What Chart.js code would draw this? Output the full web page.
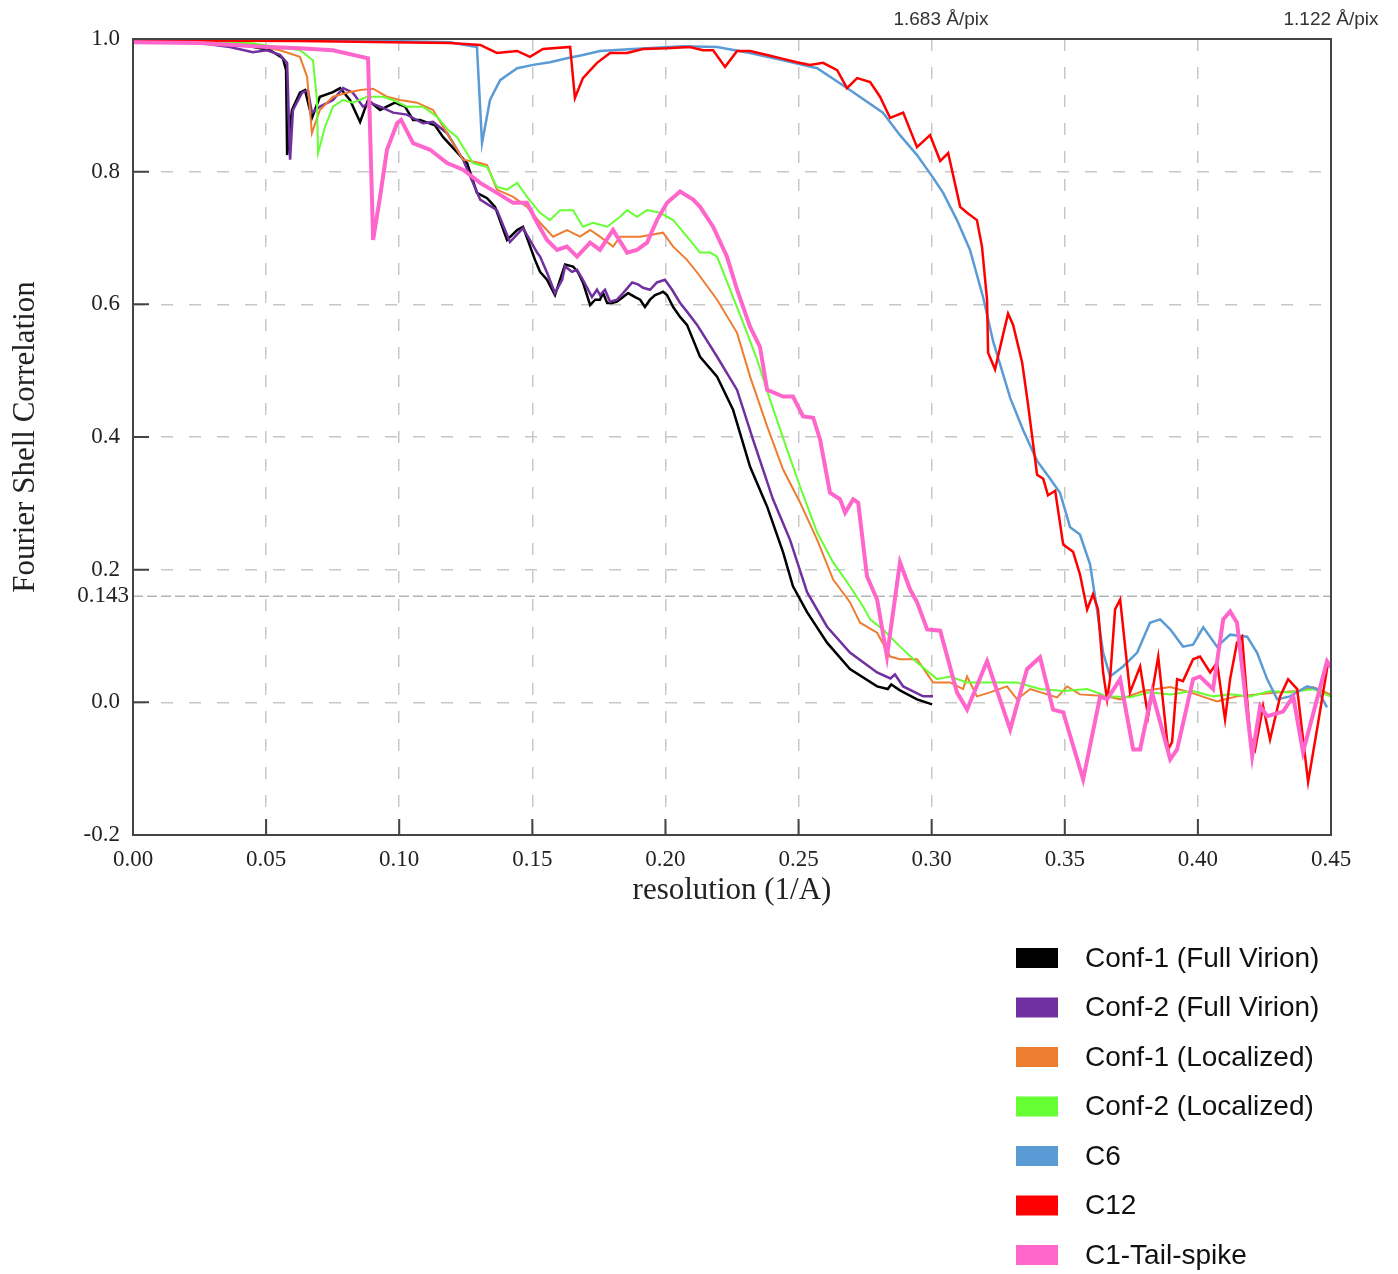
<!DOCTYPE html>
<html>
<head>
<meta charset="utf-8">
<title>Fourier Shell Correlation</title>
<script src="https://cdn.jsdelivr.net/npm/chart.js@4.4.1/dist/chart.umd.min.js"></script>
<style>
  html, body { margin: 0; padding: 0; background: #fff; }
  #fsc { display: block; }
</style>
</head>
<body>
<canvas id="fsc" width="1398" height="1274"></canvas>
<script>
// Tick values on both axes.
const xTicks = [0, 0.05, 0.1, 0.15, 0.2, 0.25, 0.3, 0.35, 0.4, 0.45];
const yTicks = [-0.2, 0, 0.2, 0.4, 0.6, 0.8, 1.0];

// Reference FSC threshold; the source figure draws its 0.143 line at this height.
const thresholdLabel = '0.143';
const thresholdDrawnAt = 0.16;

// Pixel-size annotations above the plot, keyed by resolution.
const topLabels = ['1.683 Å/pix', '1.122 Å/pix'];
const topLabelAt = [0.3035, 0.45];

const seriesNames = [
  'Conf-1 (Full Virion)', 'Conf-2 (Full Virion)', 'Conf-1 (Localized)',
  'Conf-2 (Localized)', 'C6', 'C12', 'C1-Tail-spike',
];
const seriesColors = ['#000000', '#7030a0', '#ed7d31', '#66ff33', '#5b9bd5', '#ff0000', '#ff66cc'];

// [resolution (1/A), FSC]
const conf1Full = [
  [0, 0.997], [0.025, 0.997], [0.036, 0.994], [0.044, 0.989], [0.0515, 0.983], [0.0563, 0.971],
  [0.0575, 0.953], [0.0579, 0.825], [0.0597, 0.893], [0.0627, 0.919], [0.0646, 0.923], [0.0672, 0.881],
  [0.0702, 0.913], [0.0751, 0.92], [0.0778, 0.926], [0.0815, 0.908], [0.0853, 0.875], [0.0883, 0.908],
  [0.0928, 0.893], [0.0984, 0.904], [0.1022, 0.898], [0.1052, 0.878], [0.1078, 0.878], [0.1134, 0.87],
  [0.1165, 0.852], [0.1255, 0.813], [0.1292, 0.768], [0.133, 0.76], [0.136, 0.747], [0.1405, 0.697],
  [0.1443, 0.712], [0.1465, 0.717], [0.151, 0.667], [0.1529, 0.649], [0.1555, 0.637], [0.1585, 0.614],
  [0.1604, 0.637], [0.1623, 0.66], [0.1653, 0.657], [0.1672, 0.648], [0.169, 0.633], [0.1717, 0.599],
  [0.1736, 0.607], [0.1754, 0.607], [0.1766, 0.617], [0.1781, 0.602], [0.1799, 0.602], [0.1818, 0.604],
  [0.1841, 0.611], [0.186, 0.617], [0.1886, 0.611], [0.1905, 0.607], [0.1923, 0.596], [0.1942, 0.607],
  [0.1961, 0.614], [0.198, 0.617], [0.1991, 0.619], [0.2006, 0.614], [0.2029, 0.596], [0.2055, 0.581],
  [0.2081, 0.569], [0.213, 0.521], [0.2194, 0.491], [0.2254, 0.441], [0.2318, 0.355], [0.2382, 0.295],
  [0.2442, 0.226], [0.2479, 0.175], [0.2532, 0.136], [0.2607, 0.09], [0.2693, 0.05], [0.2795, 0.024],
  [0.2835, 0.02], [0.2848, 0.027], [0.2881, 0.018], [0.2945, 0.0045], [0.3002, -0.003],
];

const conf2Full = [
  [0, 0.995], [0.025, 0.994], [0.0364, 0.988], [0.045, 0.98], [0.0503, 0.983], [0.0552, 0.976],
  [0.0579, 0.964], [0.059, 0.818], [0.0601, 0.893], [0.0635, 0.919], [0.0657, 0.923], [0.0672, 0.889],
  [0.0702, 0.898], [0.0751, 0.908], [0.0789, 0.926], [0.0826, 0.919], [0.0864, 0.898], [0.089, 0.904],
  [0.0928, 0.898], [0.0977, 0.889], [0.1029, 0.886], [0.1089, 0.873], [0.1127, 0.875], [0.118, 0.858],
  [0.124, 0.818], [0.1304, 0.758], [0.1367, 0.742], [0.1416, 0.694], [0.1465, 0.715], [0.1518, 0.678],
  [0.1529, 0.672], [0.1555, 0.648], [0.1585, 0.617], [0.1612, 0.637], [0.1623, 0.657], [0.1649, 0.649],
  [0.1668, 0.652], [0.169, 0.637], [0.1724, 0.611], [0.1743, 0.622], [0.1754, 0.614], [0.1773, 0.622],
  [0.1792, 0.604], [0.1818, 0.607], [0.1841, 0.617], [0.1875, 0.633], [0.1897, 0.63], [0.1916, 0.625],
  [0.1942, 0.622], [0.1968, 0.633], [0.1998, 0.637], [0.2025, 0.622], [0.2055, 0.602], [0.2081, 0.589],
  [0.2119, 0.569], [0.2194, 0.521], [0.2269, 0.471], [0.2329, 0.396], [0.2404, 0.306], [0.2468, 0.245],
  [0.2532, 0.166], [0.2607, 0.114], [0.2693, 0.075], [0.2795, 0.045], [0.2845, 0.036], [0.2862, 0.042],
  [0.2893, 0.024], [0.2968, 0.009], [0.3005, 0.009],
];

const conf1Local = [
  [0, 0.998], [0.025, 0.997], [0.044, 0.992], [0.0552, 0.983], [0.0627, 0.973], [0.0654, 0.943],
  [0.0672, 0.858], [0.0702, 0.893], [0.0751, 0.913], [0.0804, 0.919], [0.0853, 0.923], [0.0902, 0.925],
  [0.0954, 0.913], [0.1003, 0.908], [0.1067, 0.904], [0.1127, 0.893], [0.118, 0.858], [0.124, 0.818],
  [0.1304, 0.813], [0.133, 0.81], [0.1367, 0.773], [0.1428, 0.762], [0.148, 0.747], [0.1529, 0.723],
  [0.1578, 0.702], [0.163, 0.712], [0.1679, 0.702], [0.1717, 0.712], [0.1754, 0.702], [0.1803, 0.687],
  [0.183, 0.702], [0.1905, 0.702], [0.1991, 0.708], [0.2029, 0.687], [0.2081, 0.667], [0.2119, 0.648],
  [0.2194, 0.607], [0.2269, 0.557], [0.2318, 0.491], [0.2382, 0.416], [0.2442, 0.351], [0.2506, 0.301],
  [0.257, 0.245], [0.263, 0.185], [0.2693, 0.151], [0.2731, 0.12], [0.2795, 0.105], [0.2844, 0.069],
  [0.2881, 0.065], [0.2945, 0.065], [0.3005, 0.03], [0.3069, 0.03], [0.3118, 0.02], [0.3133, 0.039],
  [0.317, 0.009], [0.3219, 0.015], [0.3283, 0.024], [0.3321, 0.0045], [0.337, 0.02], [0.3471, 0.0075],
  [0.3509, 0.024], [0.3557, 0.012], [0.3659, 0.009], [0.3708, 0.0045], [0.3794, 0.017], [0.3896, 0.023],
  [0.3971, 0.015], [0.4072, 0.0015], [0.4147, 0.009], [0.4222, 0.012], [0.4298, 0.015], [0.4373, 0.017],
  [0.4433, 0.023], [0.4497, 0.012],
];

const conf2Local = [
  [0, 0.998], [0.025, 0.997], [0.044, 0.994], [0.0627, 0.983], [0.0676, 0.968], [0.0691, 0.908],
  [0.0695, 0.828], [0.0721, 0.867], [0.0751, 0.898], [0.0789, 0.908], [0.0826, 0.904], [0.0879, 0.913],
  [0.0939, 0.913], [0.0977, 0.908], [0.1029, 0.898], [0.1089, 0.898], [0.1142, 0.883], [0.1183, 0.863],
  [0.1217, 0.852], [0.1277, 0.813], [0.133, 0.807], [0.1367, 0.777], [0.1405, 0.773], [0.1443, 0.783],
  [0.148, 0.762], [0.1529, 0.738], [0.1566, 0.727], [0.1604, 0.742], [0.1653, 0.742], [0.169, 0.717],
  [0.1728, 0.723], [0.1781, 0.717], [0.183, 0.732], [0.1856, 0.742], [0.1893, 0.732], [0.1931, 0.742],
  [0.198, 0.738], [0.2029, 0.727], [0.2081, 0.702], [0.213, 0.678], [0.2168, 0.678], [0.2194, 0.672],
  [0.2292, 0.572], [0.2344, 0.517], [0.2393, 0.456], [0.2457, 0.381], [0.2506, 0.325], [0.257, 0.256],
  [0.263, 0.211], [0.2693, 0.175], [0.2742, 0.145], [0.2769, 0.125], [0.2817, 0.11], [0.2881, 0.084],
  [0.2945, 0.06], [0.302, 0.035], [0.3069, 0.039], [0.3133, 0.03], [0.3193, 0.03], [0.3257, 0.03],
  [0.3321, 0.03], [0.3407, 0.02], [0.3494, 0.017], [0.3584, 0.02], [0.3659, 0.009], [0.3745, 0.0075],
  [0.382, 0.015], [0.3896, 0.012], [0.3982, 0.017], [0.4057, 0.009], [0.4121, 0.012], [0.4196, 0.009],
  [0.4271, 0.017], [0.4346, 0.015], [0.4433, 0.02], [0.4497, 0.009],
];

const c6 = [
  [0, 1.0], [0.0627, 1.0], [0.119, 0.995], [0.1292, 0.988], [0.1311, 0.843], [0.1341, 0.908],
  [0.1379, 0.938], [0.1443, 0.956], [0.1503, 0.961], [0.1566, 0.965], [0.163, 0.971], [0.169, 0.976],
  [0.1754, 0.982], [0.1878, 0.985], [0.2066, 0.989], [0.2194, 0.988], [0.2318, 0.979], [0.2442, 0.968],
  [0.257, 0.956], [0.2693, 0.923], [0.2817, 0.889], [0.2881, 0.855], [0.2945, 0.825], [0.3005, 0.791],
  [0.3043, 0.768], [0.3095, 0.727], [0.3144, 0.682], [0.3193, 0.611], [0.3231, 0.544], [0.3295, 0.459],
  [0.3343, 0.411], [0.3396, 0.364], [0.3445, 0.337], [0.3482, 0.316], [0.352, 0.264], [0.3557, 0.253],
  [0.3595, 0.208], [0.3621, 0.14], [0.3644, 0.075], [0.367, 0.039], [0.3719, 0.054], [0.3772, 0.075],
  [0.382, 0.12], [0.3858, 0.125], [0.3896, 0.11], [0.3944, 0.084], [0.3982, 0.087], [0.402, 0.113],
  [0.4072, 0.084], [0.4121, 0.102], [0.4185, 0.099], [0.4222, 0.075], [0.426, 0.035], [0.4298, 0.0045],
  [0.4346, 0.009], [0.441, 0.024], [0.4448, 0.02], [0.4485, -0.0075],
];

const c12 = [
  [0, 0.998], [0.0627, 0.997], [0.119, 0.994], [0.1304, 0.991], [0.1367, 0.979], [0.1443, 0.982],
  [0.1491, 0.973], [0.154, 0.985], [0.1642, 0.988], [0.166, 0.911], [0.169, 0.941], [0.1743, 0.964],
  [0.1792, 0.979], [0.1856, 0.979], [0.1916, 0.985], [0.2006, 0.986], [0.2092, 0.988], [0.2141, 0.983],
  [0.2179, 0.983], [0.2224, 0.958], [0.2269, 0.982], [0.2318, 0.982], [0.2382, 0.976], [0.2442, 0.97],
  [0.2494, 0.965], [0.2543, 0.961], [0.2592, 0.964], [0.2645, 0.953], [0.2682, 0.926], [0.272, 0.941],
  [0.2769, 0.935], [0.2806, 0.913], [0.2844, 0.881], [0.2893, 0.889], [0.2945, 0.837], [0.2994, 0.855],
  [0.3032, 0.816], [0.3062, 0.828], [0.3107, 0.747], [0.3133, 0.738], [0.317, 0.727], [0.3189, 0.687],
  [0.3208, 0.607], [0.3212, 0.527], [0.3238, 0.502], [0.3268, 0.554], [0.3287, 0.586], [0.3306, 0.569],
  [0.334, 0.512], [0.3362, 0.449], [0.3396, 0.343], [0.3419, 0.337], [0.3437, 0.312], [0.3464, 0.319],
  [0.3494, 0.238], [0.3531, 0.227], [0.3557, 0.193], [0.3584, 0.14], [0.3606, 0.163], [0.3625, 0.14],
  [0.3644, 0.045], [0.3659, 0.0045], [0.367, 0.035], [0.3689, 0.14], [0.3708, 0.155], [0.3745, 0.015],
  [0.3783, 0.054], [0.3813, -0.021], [0.3851, 0.069], [0.3888, -0.071], [0.3903, -0.06], [0.3922, 0.035],
  [0.3944, 0.032], [0.3982, 0.065], [0.4008, 0.069], [0.4046, 0.045], [0.4072, 0.06], [0.4102, -0.026],
  [0.4121, 0.035], [0.4147, 0.09], [0.4166, 0.099], [0.4196, -0.051], [0.4215, -0.071], [0.4245, -0.006],
  [0.4271, -0.056], [0.4309, 0.009], [0.4339, 0.035], [0.4373, 0.02], [0.4414, -0.12], [0.4452, -0.03],
  [0.4489, 0.06],
];

const c1TailSpike = [
  [0, 0.995], [0.025, 0.994], [0.0503, 0.988], [0.0627, 0.986], [0.0751, 0.983], [0.0883, 0.971],
  [0.0902, 0.697], [0.0928, 0.762], [0.0954, 0.833], [0.0992, 0.873], [0.1007, 0.878], [0.1052, 0.843],
  [0.1116, 0.833], [0.118, 0.813], [0.124, 0.803], [0.1304, 0.783], [0.1367, 0.768], [0.1428, 0.753],
  [0.148, 0.753], [0.1518, 0.723], [0.1555, 0.697], [0.1593, 0.682], [0.163, 0.687], [0.1668, 0.672],
  [0.1717, 0.693], [0.1754, 0.682], [0.1803, 0.712], [0.1856, 0.678], [0.1893, 0.682], [0.1931, 0.693],
  [0.1968, 0.727], [0.2006, 0.753], [0.2055, 0.77], [0.2104, 0.758], [0.213, 0.747], [0.2179, 0.717],
  [0.2231, 0.672], [0.2269, 0.622], [0.2318, 0.566], [0.2355, 0.536], [0.2382, 0.471], [0.2442, 0.461],
  [0.2479, 0.461], [0.2517, 0.431], [0.2555, 0.429], [0.2581, 0.396], [0.2618, 0.316], [0.2656, 0.306],
  [0.2675, 0.286], [0.2705, 0.306], [0.2724, 0.301], [0.2757, 0.19], [0.2795, 0.155], [0.2832, 0.069],
  [0.2881, 0.211], [0.2919, 0.17], [0.2945, 0.151], [0.2983, 0.11], [0.3032, 0.108], [0.3095, 0.015],
  [0.3133, -0.011], [0.3208, 0.062], [0.3295, -0.041], [0.3358, 0.05], [0.3407, 0.068], [0.3456, -0.011],
  [0.3494, -0.015], [0.3569, -0.116], [0.3633, 0.009], [0.3659, 0.0045], [0.3708, 0.035], [0.3757, -0.071],
  [0.3783, -0.071], [0.3828, 0.015], [0.3896, -0.086], [0.3922, -0.071], [0.3982, 0.035], [0.4008, 0.039],
  [0.4057, 0.02], [0.4095, 0.125], [0.4121, 0.137], [0.4147, 0.12], [0.4204, -0.081], [0.4234, -0.006],
  [0.426, -0.021], [0.432, -0.014], [0.4358, 0.009], [0.4395, -0.075], [0.4485, 0.062], [0.45, 0.053],
];

const seriesData = [conf1Full, conf2Full, conf1Local, conf2Local, c6, c12, c1TailSpike];
const seriesWidths = [2.5, 2.5, 2, 2, 2.5, 2.5, 4];
// lower order is drawn on top
const seriesOrder = [6, 5, 4, 3, 2, 1, 0];

const serif = "'Liberation Serif', 'Times New Roman', serif";
const sans = "'Liberation Sans', Arial, sans-serif";

// Frame, inner tick marks, the threshold line and the top annotations.
const framePlugin = {
  id: 'frame',
  beforeDatasetsDraw(chart) {
    const { ctx, chartArea: a, scales: { y } } = chart;
    const ty = y.getPixelForValue(thresholdDrawnAt);
    ctx.save();
    ctx.strokeStyle = '#b4b4b4';
    ctx.lineWidth = 1.5;
    ctx.setLineDash([10, 4]);
    ctx.beginPath();
    ctx.moveTo(a.left, ty);
    ctx.lineTo(a.right, ty);
    ctx.stroke();
    ctx.restore();
  },
  afterDraw(chart) {
    const { ctx, chartArea: a, scales: { x, y } } = chart;
    ctx.save();
    ctx.strokeStyle = '#444';
    ctx.lineWidth = 2;
    ctx.strokeRect(a.left, a.top, a.right - a.left, a.bottom - a.top);

    ctx.beginPath();
    xTicks.forEach((v) => {
      const px = x.getPixelForValue(v);
      ctx.moveTo(px, a.bottom);
      ctx.lineTo(px, a.bottom - 16);
    });
    yTicks.forEach((v) => {
      const py = y.getPixelForValue(v);
      ctx.moveTo(a.left, py);
      ctx.lineTo(a.left + 16, py);
    });
    ctx.stroke();

    ctx.fillStyle = '#222';
    ctx.font = '23px ' + serif;
    ctx.textAlign = 'right';
    ctx.textBaseline = 'middle';
    ctx.fillText(thresholdLabel, a.left - 4, y.getPixelForValue(thresholdDrawnAt));

    ctx.fillStyle = '#333';
    ctx.font = '19px ' + sans;
    ctx.textAlign = 'center';
    ctx.textBaseline = 'middle';
    topLabels.forEach((t, i) => {
      ctx.fillText(t, x.getPixelForValue(topLabelAt[i]), 20);
    });
    ctx.restore();
  },
};

// Legend block below the plot, at the right.
const legendPlugin = {
  id: 'sideLegend',
  afterDraw(chart) {
    const { ctx } = chart;
    ctx.save();
    ctx.font = '28px ' + sans;
    ctx.textBaseline = 'middle';
    ctx.textAlign = 'left';
    chart.data.datasets.forEach((ds, i) => {
      const cy = 958 + i * 49.5;
      ctx.fillStyle = ds.borderColor;
      ctx.fillRect(1016, cy - 10, 42, 20);
      ctx.fillStyle = '#111';
      ctx.fillText(ds.label, 1085, cy + 1);
    });
    ctx.restore();
  },
};

new Chart(document.getElementById('fsc'), {
  type: 'line',
  data: {
    datasets: seriesData.map((pts, i) => ({
      label: seriesNames[i],
      data: pts.map(([x, y]) => ({ x, y })),
      borderColor: seriesColors[i],
      backgroundColor: seriesColors[i],
      borderWidth: seriesWidths[i],
      pointRadius: 0,
      tension: 0,
      order: seriesOrder[i],
    })),
  },
  options: {
    responsive: false,
    animation: false,
    layout: { padding: { left: 0, top: 39, right: 67, bottom: 365 } },
    plugins: {
      legend: { display: false },
      tooltip: { enabled: false },
    },
    scales: {
      x: {
        type: 'linear',
        min: 0,
        max: 0.45,
        afterBuildTicks: (scale) => { scale.ticks = xTicks.map((v) => ({ value: v })); },
        afterFit: (scale) => { scale.height = 74; },
        ticks: {
          padding: 11,
          color: '#222',
          font: { family: serif, size: 23 },
          callback: (v) => Number(v).toFixed(2),
        },
        grid: { color: '#c8c8c8', lineWidth: 1.5, drawTicks: false },
        border: { display: false, dash: [12, 16] },
        title: {
          display: true,
          text: 'resolution (1/A)',
          color: '#222',
          font: { family: serif, size: 31 },
          padding: 0,
        },
      },
      y: {
        type: 'linear',
        min: -0.2,
        max: 1.0,
        afterBuildTicks: (scale) => { scale.ticks = yTicks.map((v) => ({ value: v })); },
        afterFit: (scale) => { scale.width = 133; },
        ticks: {
          padding: 13,
          color: '#222',
          font: { family: serif, size: 23 },
          callback: (v) => Number(v).toFixed(1),
        },
        grid: { color: '#c8c8c8', lineWidth: 1.5, drawTicks: false },
        border: { display: false, dash: [12, 16] },
        title: {
          display: true,
          text: 'Fourier Shell Correlation',
          color: '#222',
          font: { family: serif, size: 31 },
          padding: { top: 7, bottom: 0 },
        },
      },
    },
  },
  plugins: [framePlugin, legendPlugin],
});
</script>
</body>
</html>
